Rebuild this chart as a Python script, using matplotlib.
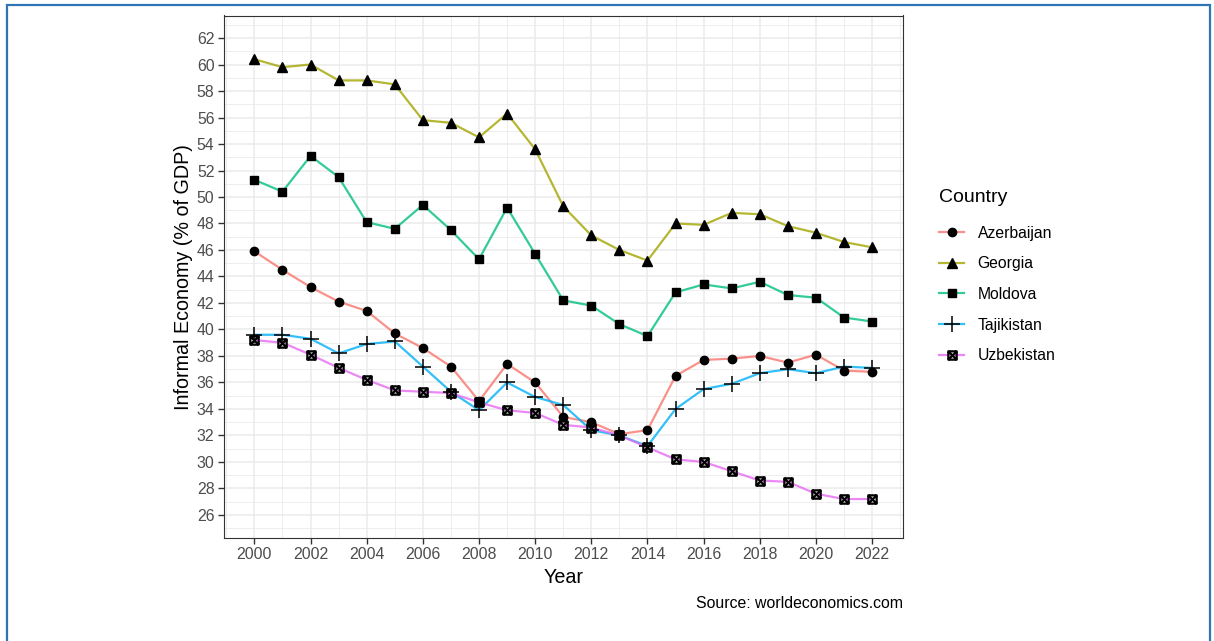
import matplotlib
matplotlib.use("Agg")
import matplotlib.pyplot as plt
from matplotlib.path import Path
from matplotlib.patches import Rectangle
from matplotlib.ticker import MultipleLocator
import numpy as np

years = list(range(2000, 2023))

azerbaijan = [45.9, 44.5, 43.2, 42.1, 41.4, 39.7, 38.6, 37.2, 34.6, 37.4, 36.0, 33.4,
              33.0, 32.1, 32.4, 36.5, 37.7, 37.8, 38.0, 37.5, 38.1, 36.9, 36.8]
georgia = [60.4, 59.8, 60.0, 58.8, 58.8, 58.5, 55.8, 55.6, 54.5, 56.3, 53.6, 49.3,
           47.1, 46.0, 45.2, 48.0, 47.9, 48.8, 48.7, 47.8, 47.3, 46.6, 46.2]
moldova = [51.3, 50.4, 53.1, 51.5, 48.1, 47.6, 49.4, 47.5, 45.3, 49.2, 45.7, 42.2,
           41.8, 40.4, 39.5, 42.8, 43.4, 43.1, 43.6, 42.6, 42.4, 40.9, 40.6]
tajikistan = [39.6, 39.6, 39.3, 38.2, 38.9, 39.1, 37.2, 35.3, 33.9, 36.0, 34.9, 34.3,
              32.4, 32.0, 31.2, 34.0, 35.5, 35.9, 36.7, 37.0, 36.7, 37.2, 37.1]
uzbekistan = [39.2, 39.0, 38.1, 37.1, 36.2, 35.4, 35.3, 35.2, 34.5, 33.9, 33.7, 32.8,
              32.6, 32.0, 31.1, 30.2, 30.0, 29.3, 28.6, 28.5, 27.6, 27.2, 27.2]

countries = ["Azerbaijan", "Georgia", "Moldova", "Tajikistan", "Uzbekistan"]
series = [azerbaijan, georgia, moldova, tajikistan, uzbekistan]
colors = ["#F8766D", "#A3A500", "#00BF7D", "#00B0F6", "#E76BF3"]

# square with a cross inside (ggplot shape 7)
box_cross = Path(
    [(-1, -1), (1, -1), (1, 1), (-1, 1), (-1, -1), (-1, -1), (1, 1), (-1, 1), (1, -1)],
    [Path.MOVETO, Path.LINETO, Path.LINETO, Path.LINETO, Path.CLOSEPOLY,
     Path.MOVETO, Path.LINETO, Path.MOVETO, Path.LINETO])

markers = [
    dict(marker="o", markersize=6),
    dict(marker="^", markersize=7),
    dict(marker="s", markersize=5.5),
    dict(marker="+", markersize=11, markeredgewidth=1.1),
    dict(marker=box_cross, markersize=6, markeredgewidth=1.6, fillstyle="none"),
]

plt.rcParams["font.family"] = ["Liberation Sans", "DejaVu Sans"]

W, H = 1214, 641
fig = plt.figure(figsize=(W / 100, H / 100), dpi=100)

# blue frame around the picture
fig.patches.append(Rectangle((7 / W, -0.05), 1203 / W, 1.05 - 5 / H, transform=fig.transFigure,
                             fill=False, edgecolor="#2E75B6", linewidth=1.6))

left, right, top, bottom = 223.5, 903, 15.5, 538
ax = fig.add_axes([left / W, 1 - bottom / H, (right - left) / W, (bottom - top) / H])

for name, vals, col, mk in zip(countries, series, colors, markers):
    ax.plot(years, vals, color=col, linewidth=1.6, alpha=0.8, zorder=2)
    ax.plot(years, vals, linestyle="none", color="black", markeredgecolor="black",
            zorder=3, **mk)

ax.set_xlim(1998.9, 2023.1)
ax.set_ylim(24.26, 63.7)
ax.xaxis.set_major_locator(MultipleLocator(2))
ax.xaxis.set_minor_locator(MultipleLocator(1))
ax.yaxis.set_major_locator(MultipleLocator(2))
ax.yaxis.set_minor_locator(MultipleLocator(1))
ax.grid(which="major", color="#EBEBEB", linewidth=1.1, zorder=0)
ax.grid(which="minor", color="#EBEBEB", linewidth=0.6, zorder=0)
ax.set_axisbelow(True)
ax.tick_params(which="major", length=4, width=1, color="#333333", labelsize=11.4,
               labelcolor="#4D4D4D", pad=2.5)
ax.tick_params(which="minor", length=0)
for sp in ax.spines.values():
    sp.set_color("#333333")
    sp.set_linewidth(0.8)

ax.set_xlabel("Year", fontsize=14.2, color="black", labelpad=4)
ax.set_ylabel("Informal Economy (% of GDP)", fontsize=14.2, color="black", labelpad=3)

fig.text(right / W, 1 - 604 / H, "Source: worldeconomics.com", ha="right", va="center",
         fontsize=11.4, color="black")

# legend
handles = []
for col, mk in zip(colors, markers):
    line = matplotlib.lines.Line2D([], [], color=col, linewidth=1.6, alpha=0.8)
    dot = matplotlib.lines.Line2D([], [], linestyle="none", color="black",
                                  markeredgecolor="black", **mk)
    handles.append((line, dot))
leg = fig.legend(handles, countries, loc="upper left", bbox_to_anchor=(925 / W, 1 - 175 / H),
                 frameon=False, title="Country", title_fontsize=14, fontsize=11.3,
                 handlelength=1.6, handletextpad=0.85, labelspacing=1.0, alignment="left")
leg._legend_box.sep = 14

fig.savefig("out.png", dpi=100)
